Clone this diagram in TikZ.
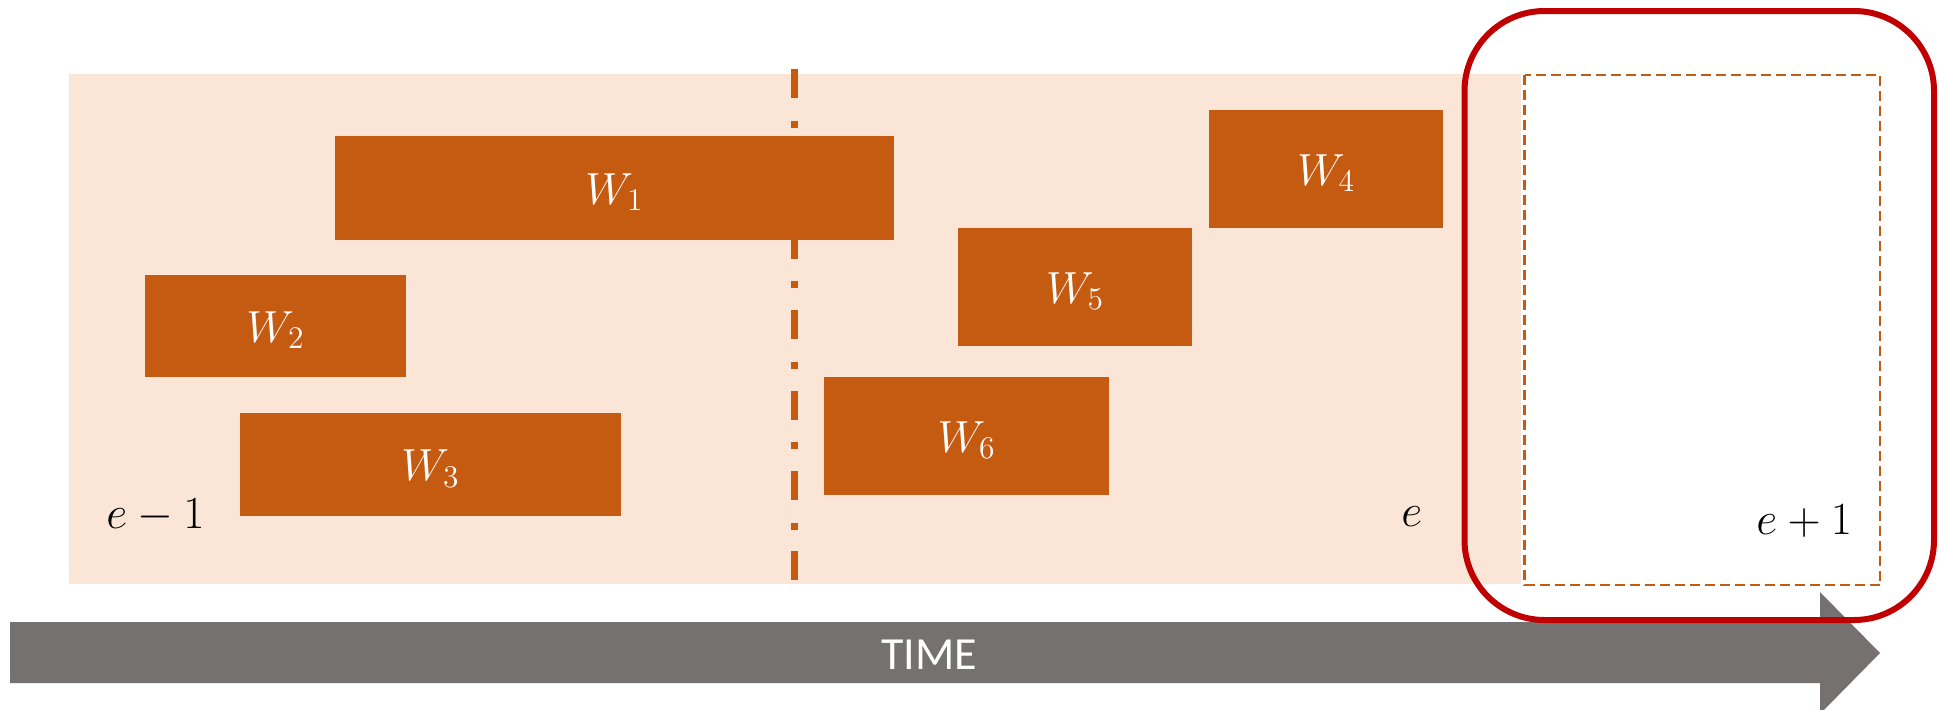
\RequirePackage{fix-cm}
\documentclass[tikz,border=0pt]{standalone}
\usepackage{fontspec}
\newfontfamily\timefont{Carlito}
\definecolor{peach}{HTML}{FBE5D6}
\definecolor{burnt}{HTML}{C55A11}
\definecolor{slate}{HTML}{767171}
\definecolor{deepred}{HTML}{C00000}
% window label: baseline set a little below the box centre
\newcommand{\wlabel}[1]{\raisebox{-8pt}[0pt][0pt]{$W_{#1}$}}
\begin{document}
\begin{tikzpicture}[x=0.5pt,y=-0.5pt,
  wbox/.style={fill=burnt, inner sep=0pt, text=white,
    font=\fontsize{22.5}{22.5}\selectfont},
  epoch/.style={anchor=base west, inner sep=0pt,
    font=\fontsize{23}{23}\selectfont}]
\useasboundingbox (0,0) rectangle (1939,709);

% shaded span of past epochs
\fill[peach] (69,74) rectangle (1521,584);
% empty slot for the next epoch
\draw[burnt, line width=1.25pt, dash pattern=on 5pt off 2.5pt]
  (1524.5,75) rectangle (1880,585);

% epoch boundary
\coordinate (divtop) at (794,69);
\coordinate (divbot) at (794,583);
\draw[burnt, line width=3.5pt,
  dash pattern=on 14.5pt off 11.3pt on 3.5pt off 10.9pt] (divtop) -- (divbot);

% windows
\node[wbox, minimum width=279.5pt, minimum height=52pt] (w1) at (614.5,188) {\wlabel{1}};
\node[wbox, minimum width=130.5pt, minimum height=51pt] (w2) at (275.5,326) {\wlabel{2}};
\node[wbox, minimum width=190.5pt, minimum height=51.5pt] (w3) at (430.5,464.5) {\wlabel{3}};
\node[wbox, minimum width=117pt, minimum height=59pt] (w4) at (1326,169) {\wlabel{4}};
\node[wbox, minimum width=117pt, minimum height=59pt] (w5) at (1075,287) {\wlabel{5}};
\node[wbox, minimum width=142.5pt, minimum height=59pt] (w6) at (966.5,436) {\wlabel{6}};

% epoch labels
\node[epoch] (eprev) at (106,528) {$e-1$};
\node[epoch] (ecur) at (1401,526) {$e$};
\node[epoch] (enext) at (1756,534) {$e+1$};

% time axis
\fill[slate] (10,622) -- (1820,622) -- (1820,592) -- (1880,653)
  -- (1820,714) -- (1820,683) -- (10,683) -- cycle;
\node[anchor=base, inner sep=0pt, text=white,
  font=\timefont\fontsize{23}{23}\selectfont] (time) at (929,669) {TIME};

% highlight around the next epoch
\draw[deepred, line width=3pt, rounded corners=40pt]
  (1464.5,11) rectangle (1934,620);
\end{tikzpicture}
\end{document}
